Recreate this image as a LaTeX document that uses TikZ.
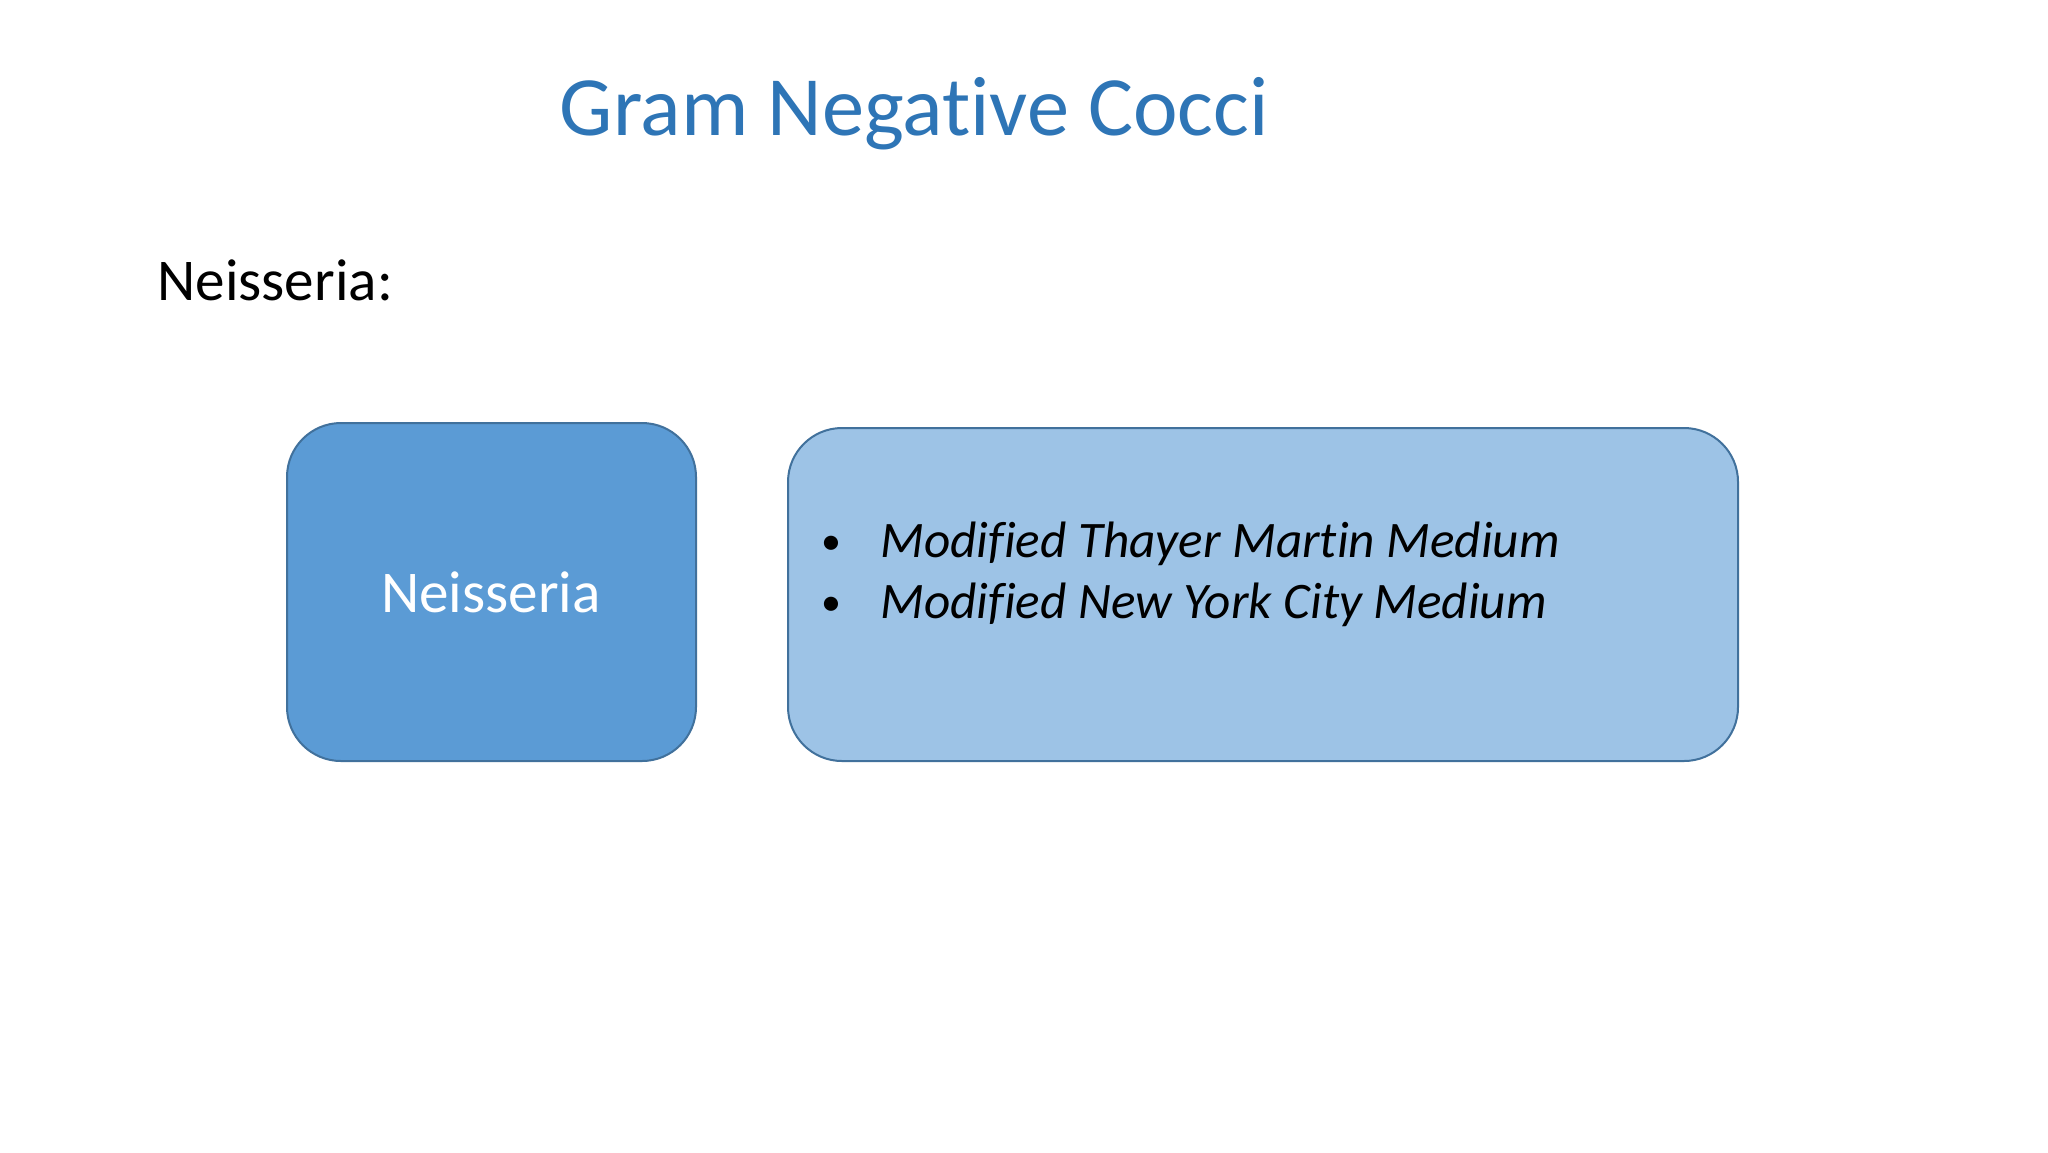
\documentclass[tikz,border=0pt]{standalone}
\usepackage{fontspec}
\setmainfont[Ligatures={NoCommon}]{Carlito}
\definecolor{titleblue}{HTML}{2E75B6}
\definecolor{darkfill}{HTML}{5B9BD5}
\definecolor{lightfill}{HTML}{9DC3E6}
\definecolor{edgeblue}{HTML}{41719C}
\tikzset{
  box/.style={draw=edgeblue, line width=1pt, rounded corners=27pt, inner sep=0pt},
  boxtext/.style={inner sep=0pt, font=\fontsize{29.6pt}{30.5pt}\selectfont},
}
\newcommand{\mybullet}{\makebox[29.5pt][l]{\upshape\fontsize{20pt}{20pt}\selectfont\raisebox{1.5pt}{•}}}
\begin{document}
\begin{tikzpicture}[x=0.5pt,y=-0.5pt]
\useasboundingbox[fill=white] (0,0) rectangle (2048,1152);
\node[anchor=base, inner sep=0pt, text=titleblue, font=\fontsize{42.2pt}{49pt}\selectfont] (title) at (914,135) {Gram Negative Cocci};
\node[anchor=base west, inner sep=0pt, font=\fontsize{29.6pt}{34pt}\selectfont] (label) at (157,300) {Neisseria:};
\node[box, fill=darkfill, minimum width=204.5pt, minimum height=169pt] (left) at (491.5,592) {};
\node[box, fill=lightfill, minimum width=475pt, minimum height=166.5pt] (right) at (1263,594.5) {};
\node[boxtext, anchor=base, text=white] (lefttext) at (491,612) {Neisseria};
\node[boxtext, anchor=base west, align=left, font=\fontsize{25.6pt}{30.5pt}\selectfont\itshape] (items) at (821,618)
  {\mybullet Modified Thayer Martin Medium\\ \mybullet Modified New York City Medium};
\end{tikzpicture}
\end{document}
